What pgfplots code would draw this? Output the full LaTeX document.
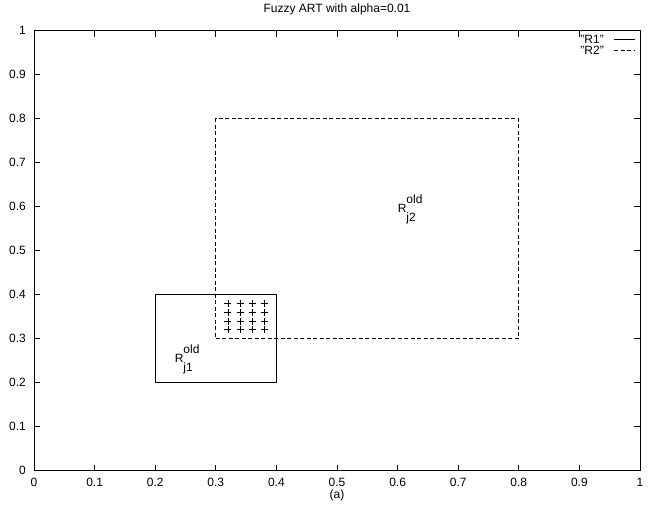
\documentclass[border=0pt]{standalone}
\usepackage{fontspec}
\setmainfont{Liberation Sans}
\usepackage{pgfplots}
\pgfplotsset{compat=1.18}
\usetikzlibrary{calc}

\begin{document}
\fontsize{12bp}{14bp}\selectfont
\begin{tikzpicture}
\begin{axis}[
    scale only axis,
    width=606bp, height=440bp,
    xmin=0, xmax=1, ymin=0, ymax=1,
    xtick={0,0.1,0.2,0.3,0.4,0.5,0.6,0.7,0.8,0.9,1},
    ytick={0,0.1,0.2,0.3,0.4,0.5,0.6,0.7,0.8,0.9,1},
    /pgf/number format/assume math mode=true,
    tick label style={font=\fontsize{12bp}{14bp}\selectfont},
    xticklabel style={anchor=base, yshift=-16bp},
    yticklabel style={xshift=-4bp},
    tick align=inside,
    major tick length=6bp,
    tick style={line width=0.7bp, black},
    axis line style={line width=0.8bp},
    title={Fuzzy ART with alpha=0.01},
    title style={at={(axis description cs:0.5,1)}, anchor=base, yshift=12bp, font=\fontsize{12bp}{14bp}\selectfont},
    xlabel={(a)},
    xlabel style={at={(axis description cs:0.5,0)}, anchor=base, yshift=-28bp, font=\fontsize{12bp}{14bp}\selectfont},
    legend plot pos=right,
    legend cell align=right,
    legend style={draw=none, fill=none, at={(axis description cs:0.993,0.991)}, anchor=north east,
        font=\fontsize{12bp}{14bp}\selectfont, row sep=3bp, inner sep=0pt,
        nodes={inner sep=0pt, text height=8.5bp, text depth=0bp}},
    legend image code/.code={\path (0bp,0bp); \draw[#1] (10bp,0bp) -- (31bp,0bp);},
    clip=false,
]
% R1 box
\addplot[black, line width=0.8bp] coordinates {
    (0.2,0.2) (0.4,0.2) (0.4,0.4) (0.2,0.4) (0.2,0.2)
};
\addlegendentry{"R1"}
% R2 box
\addplot[black, line width=0.8bp, dash pattern=on 4bp off 2.5bp] coordinates {
    (0.3,0.3) (0.8,0.3) (0.8,0.8) (0.3,0.8) (0.3,0.3)
};
\addlegendentry{"R2"}
% points
\addplot[only marks, mark=+, mark size=3.5bp, black, line width=0.8bp, forget plot] coordinates {
    (0.32,0.32) (0.34,0.32) (0.36,0.32) (0.38,0.32)
    (0.32,0.34) (0.34,0.34) (0.36,0.34) (0.38,0.34)
    (0.32,0.36) (0.34,0.36) (0.36,0.36) (0.38,0.36)
    (0.32,0.38) (0.34,0.38) (0.36,0.38) (0.38,0.38)
};
\node[anchor=base west, inner sep=0pt] at (axis cs:0.232,0.245)
    {R\rlap{\raisebox{9bp}{old}}\raisebox{-9bp}{j1}};
\node[anchor=base west, inner sep=0pt] at (axis cs:0.6,0.586)
    {R\rlap{\raisebox{9bp}{old}}\raisebox{-9bp}{j2}};
\end{axis}
\useasboundingbox ($(current axis.south west)+(-34bp,-44bp)$) rectangle ($(current axis.north east)+(12bp,26bp)$);
\end{tikzpicture}
\end{document}
